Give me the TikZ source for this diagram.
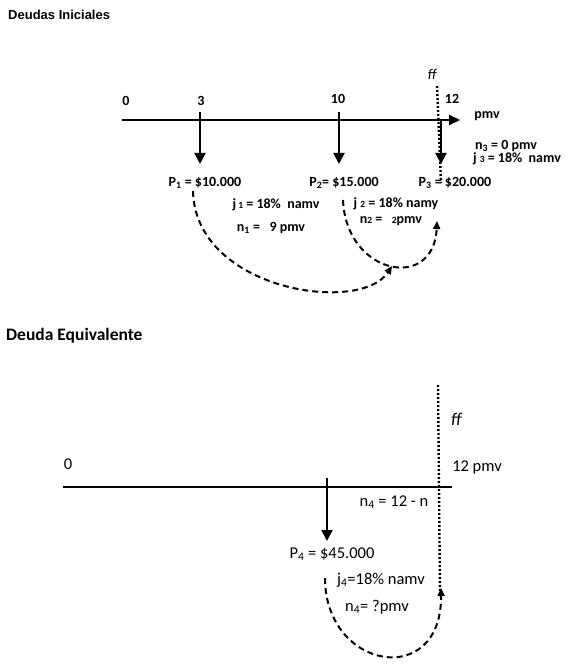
\documentclass[tikz,border=0pt]{standalone}
\usepackage{fontspec}
\setmainfont{Carlito}
\newfontfamily\arialf{Liberation Sans}
\usetikzlibrary{arrows.meta}
\tikzset{
  toplbl/.style={font=\bfseries\fontsize{14}{16}\selectfont, inner sep=0pt},
  botlbl/.style={font=\fontsize{16.5}{18}\selectfont, inner sep=0pt},
  axisline/.style={line width=2pt},
  downarrow/.style={line width=2pt, -{Triangle[length=11pt,width=11pt]}},
  dashcurve/.style={line width=2pt, dash pattern=on 6pt off 4pt, -{Triangle[length=8pt,width=7pt]}},
  dotline/.style={line width=2.4pt, dash pattern=on 2pt off 2pt},
}
\newcommand{\sm}[1]{{\fontsize{9.5}{9.5}\selectfont #1}}
\begin{document}
\begin{tikzpicture}[x=1pt,y=-1pt]
\useasboundingbox (0,0) rectangle (576,671);
% ---------- top ----------
\node[font=\arialf\bfseries\fontsize{13}{15}\selectfont, anchor=west, inner sep=0pt] (t1) at (8,15) {Deudas Iniciales};
\coordinate (a0) at (122,120);
\coordinate (aend) at (460,120);
\draw[axisline, -{Triangle[length=11pt,width=10pt]}] (a0) -- (aend);
\node[toplbl] (l0) at (126,101) {0};
\node[toplbl] (l3) at (201,101) {3};
\node[toplbl] (l10) at (338,99) {10};
\node[toplbl] (l12) at (452,99) {12};
\node[toplbl] (lpmv) at (487,116) {pmv};
\node[font=\itshape\fontsize{15}{17}\selectfont, inner sep=0pt] (ff1) at (432,74) {ff};
\coordinate (d1a) at (437,86);
\coordinate (d1b) at (441,183);
\draw[dotline] (d1a) -- (d1b);
\coordinate (t3) at (200,112);
\coordinate (t3b) at (200,164);
\draw[downarrow] (t3) -- (t3b);
\coordinate (t10) at (339,112);
\coordinate (t10b) at (339,164);
\draw[downarrow] (t10) -- (t10b);
\coordinate (t12) at (441,120);
\coordinate (t12b) at (441,164);
\draw[downarrow] (t12) -- (t12b);
\node[toplbl] (p1) at (205,183) {P\textsubscript{1} = \$10.000};
\node[toplbl] (p2) at (344,183) {P\textsubscript{2}= \$15.000};
\node[toplbl] (p3) at (455,183) {P\textsubscript{3} = \$20.000};
\node[toplbl] (n3) at (506,146) {n\textsubscript{3} = 0 pmv};
\node[toplbl] (j3) at (517,159) {j \sm{3} = 18\%\ \ namv};
\node[toplbl] (j1) at (276,205) {j\,\sm{1} = 18\%\ \ namv};
\node[toplbl] (n1) at (271,228) {n\textsubscript{1} =\ \ \ 9 pmv};
\node[toplbl] (j2) at (396,204) {j \sm{2} = 18\% namy};
\node[toplbl] (n2) at (391,221) {n\sm{2} =\ \ \ \sm{2}pmv};
\coordinate (c1s) at (193,191);
\coordinate (c1e) at (392,266);
\draw[dashcurve] (c1s) .. controls (195,290) and (360,315) .. (c1e);
\coordinate (c2s) at (343,200);
\coordinate (c2e) at (437,221);
\draw[dashcurve] (c2s) .. controls (346,275) and (434,292) .. (c2e);
% ---------- bottom ----------
\node[font=\bfseries\fontsize{17.5}{19}\selectfont, anchor=west, inner sep=0pt] (t2) at (6,336) {Deuda Equivalente};
\coordinate (b0) at (63,487);
\coordinate (bend) at (452,487);
\draw[axisline] (b0) -- (bend);
\node[botlbl] (m0) at (68,464) {0};
\node[botlbl] (m12) at (477,467) {12 pmv};
\node[font=\itshape\fontsize{18}{20}\selectfont, inner sep=0pt] (ff2) at (456,419) {ff};
\node[botlbl] (n4a) at (394,502) {n\textsubscript{4} = 12 - n};
\coordinate (d2a) at (438,385);
\coordinate (d2b) at (440,592);
\draw[dotline] (d2a) -- (d2b);
\coordinate (t4) at (327,478);
\coordinate (t4b) at (327,541);
\draw[downarrow] (t4) -- (t4b);
\node[botlbl] (p4) at (332,554) {P\textsubscript{4} = \$45.000};
\node[botlbl] (j4) at (381,580) {j\textsubscript{4}=18\% namv};
\node[botlbl] (n4b) at (377,607) {n\textsubscript{4}= ?pmv};
\coordinate (c3s) at (325,578);
\coordinate (c3e) at (441,588);
\draw[dashcurve] (c3s) .. controls (325,670) and (442,690) .. (c3e);
\end{tikzpicture}
\end{document}
